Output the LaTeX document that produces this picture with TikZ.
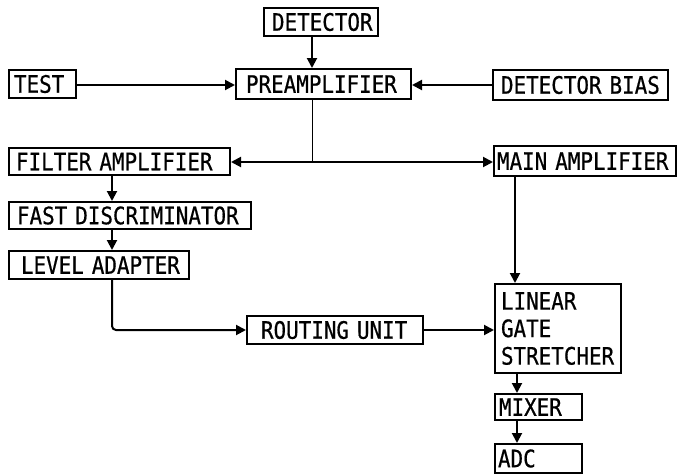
\documentclass[tikz,border=0pt]{standalone}
\usepackage{fontspec}
\newfontfamily\plotfont[FakeStretch=0.87,FakeBold=0.6]{DejaVu Sans Mono}
\newcommand\plotset{\plotfont\fontsize{24}{27.5}\selectfont\spaceskip=12.57pt\relax}
\usetikzlibrary{arrows.meta}
\begin{document}
\begin{tikzpicture}[x=1pt,y=-1pt,
  box/.style={draw, line width=2pt, anchor=north west, inner ysep=0pt,
    align=left, font=\plotset},
  conn/.style={line width=2pt, -{Triangle[length=10pt,width=10pt]}},
  thinconn/.style={line width=1pt},
]
\useasboundingbox (0,0) rectangle (681,475);

\node[box, minimum height=28pt, inner xsep=8pt, text width=98pt] (det) at (263,7) {\mbox{DETECTOR}};
\node[box, minimum height=28pt, inner xsep=5pt, text width=57pt] (test) at (8,69) {\mbox{TEST}};
\node[box, minimum height=30pt, inner xsep=10pt, text width=155pt] (pre) at (235,68) {\mbox{PREAMPLIFIER}};
\node[box, minimum height=30pt, inner xsep=8pt, text width=159pt] (bias) at (492,69) {\mbox{DETECTOR BIAS}};
\node[box, minimum height=27pt, inner xsep=7pt, text width=207pt] (filt) at (8,147) {\mbox{FILTER AMPLIFIER}};
\node[box, minimum height=30pt, inner xsep=3pt, text width=176pt] (main) at (493,145) {\mbox{MAIN AMPLIFIER}};
\node[box, minimum height=27pt, inner xsep=8pt, text width=226pt] (fast) at (8,201) {\mbox{FAST DISCRIMINATOR}};
\node[box, minimum height=28pt, inner xsep=12pt, text width=156pt] (level) at (8,250) {\mbox{LEVEL ADAPTER}};
\node[box, minimum height=28pt, inner xsep=14pt, text width=148pt] (rout) at (246,315) {\mbox{ROUTING UNIT}};
\node[box, minimum height=89pt, inner xsep=6pt, text width=114pt] (lin) at (494,283) {LINEAR\\GATE\\STRETCHER};
\node[box, minimum height=26pt, inner xsep=4pt, text width=79pt] (mix) at (494,393) {\mbox{MIXER}};
\node[box, minimum height=29pt, inner xsep=3pt, text width=81pt] (adc) at (494,443) {\mbox{ADC}};

\coordinate (cx) at (312,0);
\coordinate (ry) at (0,85);
\coordinate (jn) at (312,162);
\coordinate (lx) at (112,0);
\coordinate (mx) at (515,0);
\coordinate (ox) at (517,0);

\draw[conn] (det.south -| cx) -- (pre.north -| cx);
\draw[conn] (test.east |- ry) -- (pre.west |- ry);
\draw[conn] (bias.west |- ry) -- (pre.east |- ry);
\draw[thinconn] (pre.south -| cx) -- (jn);
\draw[conn] (jn) -- (filt.east |- jn);
\draw[conn] (jn) -- (main.west |- jn);
\draw[conn] (filt.south -| lx) -- (fast.north -| lx);
\draw[conn] (fast.south -| lx) -- (level.north -| lx);
\draw[conn, rounded corners=4pt] (level.south -| lx) |- (rout.west);
\draw[conn] (rout.east) -- (lin.west |- rout.east);
\draw[conn] (main.south -| mx) -- (lin.north -| mx);
\draw[conn] (lin.south -| ox) -- (mix.north -| ox);
\draw[conn] (mix.south -| ox) -- (adc.north -| ox);
\end{tikzpicture}
\end{document}
